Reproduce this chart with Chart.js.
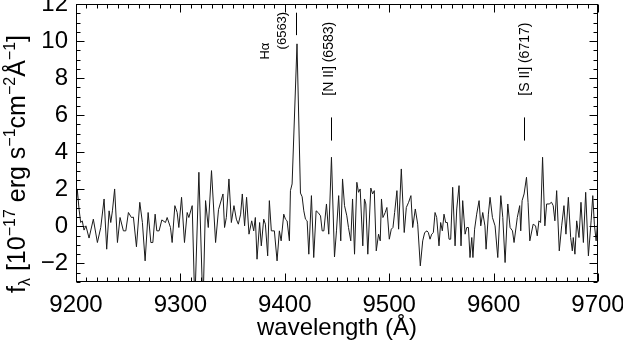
<!DOCTYPE html>
<html>
<head>
<meta charset="utf-8">
<script src="https://cdn.jsdelivr.net/npm/chart.js@4/dist/chart.umd.min.js"></script>
<style>
  html, body { margin: 0; padding: 0; background: #fff; overflow: hidden; }
  #wrap { width: 623px; height: 345px; }
</style>
</head>
<body>
<div id="wrap"><canvas id="c" width="623" height="345"></canvas></div>
<script>
// Observed-frame spectrum: wavelength in Angstrom, flux density in 1e-17 erg/s/cm2/A
const wavelength = [
  9200.0, 9201.2, 9202.9, 9204.5, 9206.0, 9207.7, 9209.5, 9212.5, 9216.6, 9220.5,
  9223.7, 9226.9, 9229.4, 9231.7, 9233.3, 9234.9, 9237.0, 9239.7, 9242.2, 9245.4,
  9247.7, 9250.2, 9253.1, 9255.0, 9257.9, 9261.1, 9263.6, 9266.2, 9269.1, 9271.7,
  9273.6, 9275.8, 9277.4, 9279.6, 9282.2, 9285.7, 9287.3, 9290.5, 9292.1, 9294.7,
  9296.9, 9298.5, 9301.1, 9303.9, 9306.5, 9308.1, 9311.3, 9313.8, 9317.7, 9321.6,
  9324.1, 9326.7, 9329.8, 9333.7, 9336.5, 9340.8, 9342.3, 9344.0, 9346.5, 9348.8,
  9351.3, 9353.6, 9355.5, 9357.7, 9359.3, 9361.5, 9363.4, 9365.7, 9368.3, 9370.2,
  9371.8, 9373.4, 9375.9, 9377.5, 9379.8, 9381.4, 9383.6, 9385.2, 9387.1, 9390.0,
  9392.6, 9394.8, 9396.5, 9399.0, 9400.6, 9402.2, 9404.4, 9405.4, 9407.0, 9411.7,
  9415.0, 9416.6, 9418.2, 9419.8, 9421.4, 9423.0, 9425.5, 9427.7, 9430.0, 9431.9,
  9434.2, 9435.8, 9437.4, 9439.9, 9442.1, 9444.7, 9447.6, 9449.5, 9451.6, 9453.6,
  9455.3, 9457.2, 9459.4, 9461.0, 9463.2, 9464.9, 9466.8, 9469.0, 9470.6, 9472.2,
  9474.7, 9476.3, 9477.6, 9479.5, 9482.4, 9484.1, 9485.7, 9487.6, 9489.8, 9491.4,
  9492.6, 9494.0, 9496.2, 9497.8, 9500.1, 9502.0, 9503.6, 9505.2, 9507.4, 9509.0,
  9511.6, 9514.4, 9516.4, 9518.6, 9520.8, 9522.5, 9525.0, 9527.3, 9529.8, 9532.1,
  9534.0, 9536.2, 9537.5, 9539.1, 9540.7, 9542.3, 9543.9, 9545.5, 9547.7, 9549.3,
  9550.9, 9552.5, 9554.1, 9555.7, 9557.3, 9558.9, 9560.8, 9563.1, 9564.7, 9566.9,
  9568.8, 9570.4, 9572.7, 9574.3, 9575.9, 9577.4, 9579.1, 9580.2, 9581.8, 9583.8,
  9586.1, 9587.7, 9589.6, 9591.7, 9592.8, 9595.0, 9596.6, 9598.9, 9601.4, 9604.0,
  9606.9, 9608.8, 9611.0, 9613.6, 9615.8, 9618.1, 9619.6, 9622.7, 9625.0, 9626.0,
  9627.3, 9629.2, 9631.5, 9633.0, 9634.7, 9637.9, 9640.2, 9641.8, 9643.4, 9645.0,
  9646.9, 9649.1, 9650.8, 9653.3, 9655.5, 9657.1, 9658.7, 9660.4, 9662.9, 9665.2,
  9667.4, 9669.3, 9671.6, 9673.8, 9675.4, 9676.3, 9677.9, 9679.6, 9681.8, 9683.7,
  9686.0, 9688.2, 9690.8, 9693.4, 9695.0, 9696.5, 9698.2, 9700.0
];
const flux = [
  1.00, 2.02, 0.94, 0.21, 0.30, -0.20, 0.03, -0.63, 0.39, -0.87,
  -0.06, 1.48, -1.23, 0.84, 0.21, 0.84, 2.02, -0.87, 0.48, -0.24,
  -0.24, 0.75, 0.48, 0.50, -1.10, 1.30, 0.21, -1.86, 0.75, -0.87,
  -0.87, 0.66, -0.24, -0.24, 0.35, 0.21, 0.48, -0.06, -0.87, 1.12,
  0.75, -0.06, 1.57, -0.87, 0.75, 0.48, 1.12, -4.20, 2.92, -4.50,
  1.39, -0.06, 3.01, -0.87, 0.90, 1.75, -0.06, 0.48, 2.56, 0.21,
  1.12, 0.39, 0.12, 0.66, 1.75, 0.03, 1.57, -0.42, 0.30, -0.24,
  0.48, -1.77, 0.21, -1.05, 0.39, 0.12, -1.59, 1.39, -0.24, -0.24,
  -1.86, -0.24, -0.78, 0.66, 0.39, 0.30, -0.78, 1.93, 2.29, 9.85,
  1.80, 1.60, 0.84, 0.39, 0.30, -1.50, 1.66, -1.68, 0.84, 0.75,
  0.57, -0.24, -0.24, 1.21, -0.42, 3.73, -1.65, -0.24, 1.66, -0.78,
  2.56, 1.12, 0.57, -0.06, -0.78, 1.48, -1.50, 2.38, 1.84, 2.02,
  -1.05, 1.48, 1.21, -1.50, 2.07, 1.75, 1.93, -1.32, -0.42, -0.78,
  1.48, 0.48, 0.75, 1.02, -0.69, -0.15, -0.06, 0.75, 1.93, -0.15,
  3.10, -0.33, 1.02, 1.30, 1.66, -0.06, 0.94, 0.12, -2.13, -0.78,
  -0.33, -0.24, -0.33, -0.69, -0.42, -0.33, 0.75, 0.48, -1.05, 0.21,
  -0.24, 0.66, 0.21, 0.21, -0.69, -0.69, 2.11, -1.05, 0.94, 2.20,
  -1.05, 1.39, -0.42, -0.06, -0.06, -1.68, -0.60, -1.68, -0.15, 0.66,
  1.39, 0.03, 0.75, 0.03, -1.23, 0.66, 1.57, 0.48, 0.03, -1.68,
  1.66, 0.48, -1.95, 1.21, -0.06, -0.24, -0.87, 0.48, 1.12, -0.24,
  1.39, 1.75, 2.65, 1.30, -0.78, 0.12, 0.03, -0.51, 0.30, 0.21,
  3.73, 0.03, 1.21, 1.21, 1.30, 1.12, 0.30, 1.93, -1.32, 0.03,
  1.12, -0.42, 1.57, -0.60, -1.32, -0.60, -1.50, 0.30, -0.60, 1.30,
  -0.87, 1.84, -1.59, 0.30, 1.66, 0.12, -0.78, 0.50
];

// Axis tick labels
const xTicks = [9200, 9300, 9400, 9500, 9600, 9700];
const yTicks = [-2, 0, 2, 4, 6, 8, 10, 12];

// Emission-line identifications: observed wavelength of each marked line
const lineName = ['Hα', '[N II]', '[S II]'];
const lineRest = ['(6563)', '(6583)', '(6717)'];
const lineWave = [9410.9, 9443.8, 9629.3];

const FONT = "'Liberation Sans', Arial, Helvetica, sans-serif";

// Placement of the identification marks and their text (flux units along y, pixel nudges along x)
const idLayout = [
  { tick: [10.32, 11.53], rows: [ { text: lineName[0], dx: -31, start: 9.0, size: 13 }, { text: lineRest[0], dx: -14, start: 9.55, size: 13 } ] },
  { tick: [4.63, 5.88],   rows: [ { text: lineName[1] + ' ' + lineRest[1], dx: -2.5, start: 7.05, size: 14 } ] },
  { tick: [4.63, 5.88],   rows: [ { text: lineName[2] + ' ' + lineRest[2], dx: 1, start: 7.05, size: 14 } ] }
];

const framePlugin = {
  id: 'frame',
  afterDraw(chart) {
    const { ctx, chartArea: a, scales: { x, y } } = chart;
    const L = Math.round(a.left) + 0.5, R = Math.round(a.right) - 0.5;
    const T = Math.round(a.top) + 0.5, B = Math.round(a.bottom) - 0.5;
    ctx.save();
    ctx.strokeStyle = '#000';
    ctx.lineWidth = 1;
    ctx.strokeRect(L, T, R - L, B - T);

    // inward ticks on all four sides
    ctx.beginPath();
    for (let w = 9200; w <= 9700; w += 10) {
      const px = Math.round(x.getPixelForValue(w)) + 0.5;
      const len = (w % 100 === 0) ? 8 : 4;
      ctx.moveTo(px, B); ctx.lineTo(px, B - len);
      ctx.moveTo(px, T); ctx.lineTo(px, T + len);
    }
    for (let k = -6; k <= 24; k++) {
      const v = k * 0.5;
      const py = Math.round(y.getPixelForValue(v)) + 0.5;
      const len = (k % 4 === 0) ? 8 : 4;
      ctx.moveTo(L, py); ctx.lineTo(L + len, py);
      ctx.moveTo(R, py); ctx.lineTo(R - len, py);
    }
    ctx.stroke();

    // emission-line marks and labels
    ctx.fillStyle = '#000';
    ctx.textBaseline = 'middle';
    ctx.textAlign = 'left';
    idLayout.forEach((lay, i) => {
      const px = Math.round(x.getPixelForValue(lineWave[i])) + 0.5;
      ctx.beginPath();
      ctx.moveTo(px, y.getPixelForValue(lay.tick[0]));
      ctx.lineTo(px, y.getPixelForValue(lay.tick[1]));
      ctx.stroke();
      lay.rows.forEach(r => {
        ctx.save();
        ctx.font = r.size + 'px ' + FONT;
        ctx.translate(px + r.dx, y.getPixelForValue(r.start));
        ctx.rotate(-Math.PI / 2);
        ctx.fillText(r.text, 0, 0);
        ctx.restore();
      });
    });

    // y-axis title with sub/superscripts, rotated
    const parts = [
      { t: 'f', s: 25, d: 0 },
      { t: 'λ', s: 16, d: 5 },
      { t: ' [10', s: 25, d: 0 },
      { t: '−17', s: 16, d: -10 },
      { t: ' erg s', s: 25, d: 0 },
      { t: '−1', s: 16, d: -10 },
      { t: 'cm', s: 25, d: 0 },
      { t: '−2', s: 16, d: -10 },
      { t: 'Å', s: 25, d: 0 },
      { t: '−1', s: 16, d: -10 },
      { t: ']', s: 25, d: 0 }
    ];
    ctx.textBaseline = 'alphabetic';
    let total = 0;
    parts.forEach(p => { ctx.font = p.s + 'px ' + FONT; p.w = ctx.measureText(p.t).width; total += p.w; });
    ctx.translate(25, 164);
    ctx.rotate(-Math.PI / 2);
    let cx = -total / 2;
    parts.forEach(p => {
      ctx.font = p.s + 'px ' + FONT;
      ctx.fillText(p.t, cx, p.d);
      cx += p.w;
    });
    ctx.restore();
  }
};

new Chart(document.getElementById('c'), {
  type: 'line',
  data: {
    datasets: [{
      data: wavelength.map((w, i) => ({ x: w, y: flux[i] })),
      borderColor: '#1a1a1a',
      borderWidth: 1,
      pointRadius: 0,
      tension: 0,
      fill: false
    }]
  },
  options: {
    responsive: false,
    animation: false,
    events: [],
    layout: { padding: { left: 0, right: 25, top: 4, bottom: 0 } },
    plugins: { legend: { display: false }, tooltip: { enabled: false } },
    scales: {
      x: {
        type: 'linear',
        min: 9200,
        max: 9700,
        afterBuildTicks: s => { s.ticks = xTicks.map(v => ({ value: v })); },
        afterFit: s => { s.height = 63; s.paddingLeft = 0; s.paddingRight = 0; },
        grid: { display: false, drawTicks: false },
        border: { display: false },
        ticks: {
          autoSkip: false, maxRotation: 0, padding: 9, color: '#000',
          font: { family: FONT, size: 24 },
          callback: v => String(v)
        },
        title: {
          display: true, text: 'wavelength (Å)', color: '#000',
          font: { family: FONT, size: 24 },
          padding: { top: 0, bottom: 2 }
        }
      },
      y: {
        type: 'linear',
        min: -3,
        max: 12,
        afterBuildTicks: s => { s.ticks = yTicks.map(v => ({ value: v })); },
        afterFit: s => { s.width = 76; s.paddingTop = 0; s.paddingBottom = 0; },
        grid: { display: false, drawTicks: false },
        border: { display: false },
        ticks: {
          padding: 8, color: '#000',
          font: { family: FONT, size: 24 },
          callback: v => String(v).replace('-', '−')
        }
      }
    }
  },
  plugins: [framePlugin]
});
</script>
</body>
</html>
